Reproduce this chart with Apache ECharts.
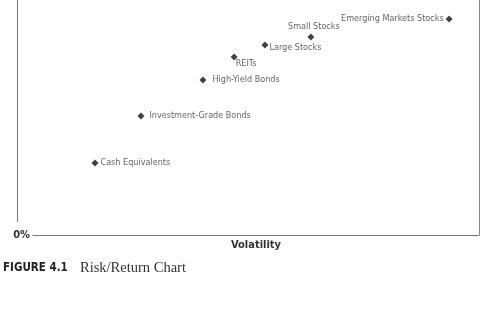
<!DOCTYPE html>
<html><head><meta charset="utf-8">
<script src="https://cdn.jsdelivr.net/npm/echarts@6/dist/echarts.min.js"></script>
<style>html,body{margin:0;padding:0;background:#fff}#c{width:480px;height:320px}</style>
</head><body><div id="c"></div>
<script>
const assets = ['Cash Equivalents','Investment-Grade Bonds','High-Yield Bonds','REITs','Large Stocks','Small Stocks','Emerging Markets Stocks'];
const volatility = [13.9, 24.2, 38.1, 45.1, 52.0, 62.3, 93.3];
const returns = [30.6, 50.6, 66.0, 75.7, 80.9, 84.3, 91.9];
const yTicks = ['0%'];

const FONT = '"Liberation Sans Narrow","DejaVu Sans Condensed",sans-serif';
const labelCfg = [
  {position:'right', distance:2},
  {position:'right', distance:5},
  {position:'right', distance:6},
  {position:'bottom', distance:-1, offset:[12,0]},
  {position:'right', distance:1, offset:[0,3]},
  {position:'top', distance:2, offset:[3,0]},
  {position:'left', distance:2}
];
const data = assets.map((n,i)=>({name:n, value:[volatility[i], returns[i]], label:labelCfg[i]}));

const chart = echarts.init(document.getElementById('c'));
chart.setOption({
  animation:false,
  title:[
    {text:'FIGURE 4.1', left:3, top:262, padding:0, textStyle:{fontFamily:FONT, fontWeight:'bold', fontSize:11.5, color:'#222'}},
    {text:'Risk/Return Chart', left:80, top:261, padding:0, textStyle:{fontFamily:'"Liberation Serif",serif', fontWeight:'normal', fontSize:14.5, color:'#333'}}
  ],
  grid:{left:33, right:1, top:0, height:235, outerBoundsMode:'none', containLabel:false},
  xAxis:{type:'value', min:0, max:100, name:'Volatility', nameLocation:'middle', nameGap:5,
    nameTextStyle:{fontFamily:FONT, fontWeight:'bold', fontSize:11, color:'#333', verticalAlign:'top'},
    axisLine:{lineStyle:{color:'#777', width:1}}, axisTick:{show:false}, axisLabel:{show:false}, splitLine:{show:false}},
  yAxis:[
    {type:'value', min:0, max:100, interval:100, name:'Return', nameLocation:'middle', nameGap:25, nameRotate:90,
      nameTextStyle:{fontFamily:FONT, fontWeight:'bold', fontSize:11, color:'#333'},
      axisLine:{show:false}, axisTick:{show:false}, splitLine:{show:false},
      axisLabel:{margin:3, fontFamily:FONT, fontWeight:'bold', fontSize:11, color:'#333',
        formatter:(v)=> v===0 ? yTicks[0] : ''}},
    {type:'value', position:'right', min:0, max:100, axisLine:{show:true, lineStyle:{color:'#888', width:1}},
      axisTick:{show:false}, axisLabel:{show:false}, splitLine:{show:false}}
  ],
  graphic:[{type:'line', shape:{x1:17.5, y1:0, x2:17.5, y2:222}, style:{stroke:'#777', lineWidth:1}}],
  series:[{type:'scatter', data:data, symbol:'diamond', symbolSize:7, itemStyle:{color:'#111'},
    label:{show:true, formatter:'{b}', fontFamily:FONT, fontSize:9, color:'#3a3a3a'}}]
});
</script></body></html>
